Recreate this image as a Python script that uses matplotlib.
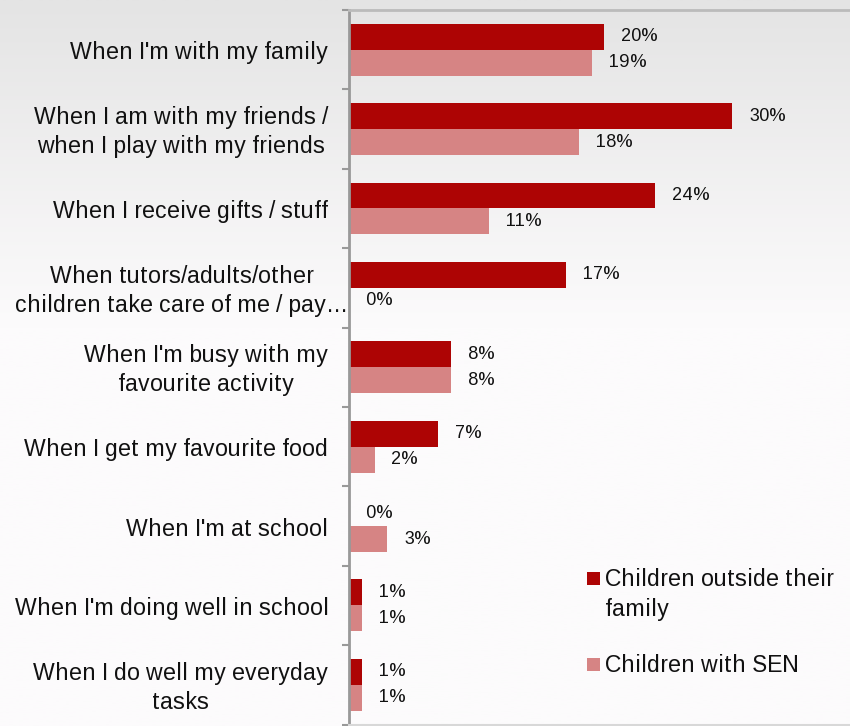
import numpy as np
import matplotlib
matplotlib.use("Agg")
import matplotlib.pyplot as plt
from matplotlib.patches import Rectangle
from matplotlib.transforms import ScaledTranslation

plt.rcParams["font.family"] = ["Liberation Sans", "DejaVu Sans"]
plt.rcParams["text.hinting_factor"] = 1

categories = [
    "When I'm with my family",
    "When I am with my friends /\nwhen I play with my friends",
    "When I receive gifts / stuff",
    "When tutors/adults/other\nchildren take care of me / pay\u2026",
    "When I'm busy with my\nfavourite activity",
    "When I get my favourite food",
    "When I'm at school",
    "When I'm doing well in school",
    "When I do well my everyday\ntasks",
]
outside_family = [20, 30, 24, 17, 8, 7, 0, 1, 1]
with_sen = [19, 18, 11, 0, 8, 2, 3, 1, 1]
series_names = ["Children outside their\nfamily", "Children with SEN"]

dark_red = "#ad0404"
light_red = "#d68484"
text_color = "#111111"
label_size = 16.4
value_size = 12.8

W, H = 850, 726
fig = plt.figure(figsize=(W / 100, H / 100), dpi=100)

# soft vertical background gradient
bg = fig.add_axes([0, 0, 1, 1], zorder=-10)
t = np.linspace(0, 1, 400)
top = np.array([228, 228, 228]) / 255
bot = np.array([252, 251, 252]) / 255
k = np.clip(t / 0.45, 0, 1)[:, None]
grad = top * (1 - k) + bot * k
bg.imshow(grad[:, None, :], aspect="auto", extent=[0, 1, 0, 1])
bg.set_axis_off()

ax_left = 349 / W
ax_bottom = 1.5 / H
ax_top = 1 - 10 / H
ax = fig.add_axes([ax_left, ax_bottom, 1 - ax_left, ax_top - ax_bottom])
ax.patch.set_alpha(0)

n = len(categories)
y = np.arange(n)
bh = 0.327
b1 = ax.barh(y - bh / 2, outside_family, height=bh, color=dark_red, label=series_names[0])
b2 = ax.barh(y + bh / 2, with_sen, height=bh, color=light_red, label=series_names[1])

for bars, vals in ((b1, outside_family), (b2, with_sen)):
    for rect, v in zip(bars, vals):
        ax.annotate(f"{v}%", xy=(v, rect.get_y() + rect.get_height() / 2),
                    xytext=(12.2, 0), textcoords="offset points",
                    ha="left", va="center", fontsize=value_size, color=text_color)

ax.set_xlim(0, (W - 349) / 12.77)
ax.set_ylim(n - 0.5, -0.5)

# category labels: right-aligned block, lines centred within it
ax.set_yticks([])
ax.set_yticks(np.arange(n + 1) - 0.5, minor=True)
ax.tick_params(axis="y", which="minor", length=5, width=1.5, color="#999999",
               direction="out", labelleft=False)
ax.set_xticks([])

label_shift = ScaledTranslation(-0.21, -0.03, fig.dpi_scale_trans)
cat_texts = []
for yi, name in zip(y, categories):
    txt = ax.text(0, yi, name, transform=ax.get_yaxis_transform() + label_shift,
                  ha="right", va="center", multialignment="center",
                  fontsize=label_size, color=text_color, linespacing=1.36)
    cat_texts.append(txt)

fig.canvas.draw()
renderer = fig.canvas.get_renderer()
min_left = 15
for txt in cat_texts:
    bb = txt.get_window_extent(renderer)
    if bb.x0 < min_left:
        dx = (min_left - bb.x0) / fig.dpi
        txt.set_transform(txt.get_transform() + ScaledTranslation(dx, 0, fig.dpi_scale_trans))

ax.spines["left"].set_color("#999999")
ax.spines["left"].set_linewidth(2)
ax.spines["top"].set_color("#bbbbbb")
ax.spines["top"].set_linewidth(2)
ax.spines["bottom"].set_color("#d8d8d8")
ax.spines["bottom"].set_linewidth(1.5)
ax.spines["right"].set_visible(False)

# legend: swatch aligned with the first line of each label
legend_rows = [(b1, series_names[0], 578), (b2, series_names[1], 664)]
sw = 13
for bars, name, yc in legend_rows:
    fc = bars.patches[0].get_facecolor()
    fig.add_artist(Rectangle((587 / W, 1 - (yc + sw / 2) / H), sw / W, sw / H,
                             transform=fig.transFigure, facecolor=fc, edgecolor="none"))
    fig.text(605 / W, 1 - (yc - 10.5) / H, name, ha="left", va="top",
             fontsize=label_size, color=text_color, linespacing=1.4)

fig.savefig("out.png", dpi=100)
